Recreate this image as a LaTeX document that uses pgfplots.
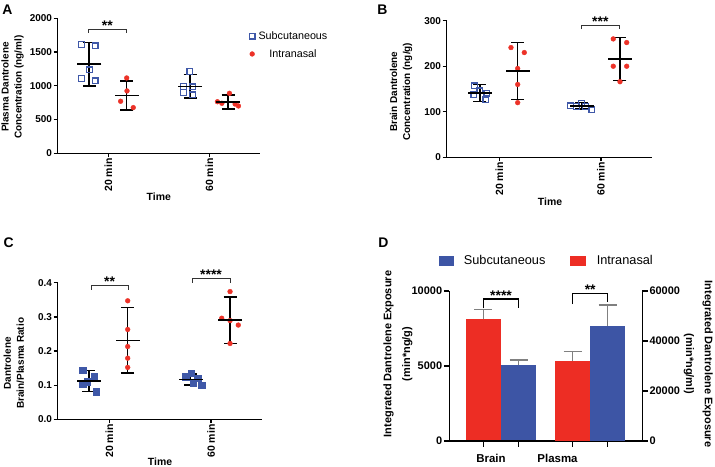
\documentclass[border=0pt]{standalone}
\usepackage{fontspec}
\setmainfont{Liberation Sans}
\usepackage{pgfplots}
\pgfplotsset{compat=1.18}

\definecolor{sqblue}{RGB}{63,88,168}
\definecolor{inred}{RGB}{236,50,40}
\definecolor{barblue}{RGB}{61,85,165}
\definecolor{barred}{RGB}{237,45,36}

\pgfplotsset{
  dotplot/.style={
    scale only axis, clip=false, anchor=south west,
    axis lines*=left, axis line style={line width=1.3bp,-},
    tick align=outside, tick style={line width=1.3bp, black},
    major tick length=4bp,
    ymin=0,
    xtick={1,2}, xticklabels={20 min,60 min},
    xticklabel style={rotate=90, anchor=east, font=\bfseries\fontsize{10.5}{12}\selectfont, inner sep=1bp},
    yticklabel style={font=\bfseries\fontsize{10}{12}\selectfont, inner sep=1.5bp},
    /pgf/number format/assume math mode=true,
    /pgf/number format/1000 sep={},
    xlabel={Time},
    every axis x label/.style={anchor=center, font=\bfseries\fontsize{10.5}{12}\selectfont},
    every axis y label/.style={rotate=90, anchor=center, align=center, font=\bfseries\fontsize{10}{13}\selectfont},
  },
  subq/.style={only marks, mark=square, mark size=2.9bp, mark options={draw=sqblue, fill=white, line width=1.2bp}},
  subqf/.style={only marks, mark=square*, mark size=3.2bp, mark options={draw=sqblue, fill=sqblue}},
  intra/.style={only marks, mark=*, mark size=2.4bp, mark options={draw=inred, fill=inred}},
  sdbar/.style={black, only marks, mark=-, mark size=12bp, mark options={line width=1.6bp},
    /pgfplots/error bars/y dir=both, /pgfplots/error bars/y explicit,
    /pgfplots/error bars/error mark=|,
    /pgfplots/error bars/error bar style={line width=1.6bp, black},
    /pgfplots/error bars/error mark options={mark size=6.5bp, line width=1.6bp, black}},
  barerr/.style={
    /pgfplots/error bars/y dir=plus, /pgfplots/error bars/y explicit,
    /pgfplots/error bars/error mark=|,
    /pgfplots/error bars/error bar style={line width=1.5bp, gray},
    /pgfplots/error bars/error mark options={mark size=9bp, line width=1.5bp, gray}},
}
\tikzset{
  brk/.style={line width=0.8bp, black!80},
  stars/.style={anchor=base, inner sep=0pt, yshift=-1.5bp, font=\bfseries\fontsize{14}{14}\selectfont},
}

\begin{document}
\begin{tikzpicture}
\path[use as bounding box] (0,0) rectangle (715bp,467bp);

% panel letters
\node[font=\bfseries\fontsize{14}{14}\selectfont] at (7.5bp,457bp) {A};
\node[font=\bfseries\fontsize{14}{14}\selectfont] at (382.5bp,457bp) {B};
\node[font=\bfseries\fontsize{14}{14}\selectfont] at (8.7bp,224.7bp) {C};
\node[font=\bfseries\fontsize{14}{14}\selectfont] at (383.3bp,224.7bp) {D};

% ---------------- A: plasma ----------------
\begin{axis}[dotplot, at={(57.7bp,313.7bp)}, width=202.3bp, height=135bp,
  xmin=0.5, xmax=2.5, ymax=2000, ytick={0,500,1000,1500,2000},
  ylabel={Plasma Dantrolene\\Concentration (ng/ml)},
  y label style={at={(axis description cs:-0.223,0.49)}},
  x label style={at={(axis description cs:0.5,-0.324)}},
  legend style={draw=none, fill=none, inner sep=0pt, font=\fontsize{10.8}{12}\selectfont,
    at={(axis description cs:0.946,0.802)}, anchor=west, row sep=4.6bp,
    /tikz/every odd column/.append style={column sep=1.5bp}},
]
\addplot[subq] coordinates {(0.737,1615) (0.869,1590) (0.812,1235) (0.737,1111) (0.869,1072)};
\addlegendentry{Subcutaneous}
\addplot[intra] coordinates {(1.182,1116) (1.185,924) (1.122,771) (1.247,677)};
\addlegendentry{Intranasal}
\addplot[subq, forget plot] coordinates {(1.807,1210) (1.745,990) (1.83,985) (1.745,905) (1.83,865)};
\addplot[intra, forget plot] coordinates {(2.079,764) (2.123,741) (2.198,889) (2.254,730) (2.287,701)};
\addplot[sdbar, forget plot] coordinates {
  (0.812,1321) +- (0,323)
  (1.182,855) +- (0,212)
  (1.81,990) +- (0,175)
  (2.186,758) +- (0,106)
};
\draw[brk] (axis cs:0.802,1788) -- (axis cs:0.802,1838) -- (axis cs:1.175,1838) -- (axis cs:1.175,1788);
\node[stars] at (axis cs:0.99,1838) {**};
\end{axis}

% ---------------- B: brain ----------------
\begin{axis}[dotplot, at={(446.7bp,309.7bp)}, width=205bp, height=136.6bp,
  xmin=0.483, xmax=2.499, ymax=300, ytick={0,100,200,300},
  ylabel={Brain Dantrolene\\Concentration (ng/g)},
  y label style={at={(axis description cs:-0.223,0.48)}},
  x label style={at={(axis description cs:0.504,-0.325)}},
]
\addplot[subq] coordinates {(0.756,157) (0.879,141) (0.751,137) (0.869,126) (0.81,146)};
\addplot[intra] coordinates {(1.115,241) (1.246,230) (1.181,195) (1.181,160) (1.181,120)};
\addplot[subq] coordinates {(1.70,113) (1.81,119) (1.76,111) (1.85,112) (1.91,104)};
\addplot[intra] coordinates {(2.121,260) (2.253,252) (2.121,200) (2.253,200) (2.187,166)};
\addplot[sdbar] coordinates {
  (0.81,141) +- (0,18.5)
  (1.181,189.5) +- (0,62.5)
  (1.81,113) +- (0,7)
  (2.187,216) +- (0,47.5)
};
\draw[brk] (axis cs:1.81,281.7) -- (axis cs:1.81,290.5) -- (axis cs:2.177,290.5) -- (axis cs:2.177,281.7);
\node[stars] at (axis cs:1.994,290.5) {***};
\end{axis}

% ---------------- C: ratio ----------------
\begin{axis}[dotplot, at={(57.7bp,47.7bp)}, width=204.6bp, height=136.6bp,
  xmin=0.493, xmax=2.504, ymax=0.4, ytick={0,0.1,0.2,0.3,0.4},
  yticklabel style={/pgf/number format/fixed, /pgf/number format/precision=1, /pgf/number format/fixed zerofill},
  ylabel={Dantrolene\\Brain/Plasma Ratio},
  y label style={at={(axis description cs:-0.214,0.41)}},
  x label style={at={(axis description cs:0.5,-0.31)}},
]
\addplot[subqf] coordinates {(0.738,0.144) (0.853,0.125) (0.784,0.110) (0.738,0.103) (0.869,0.081)};
\addplot[intra] coordinates {(1.181,0.347) (1.181,0.263) (1.181,0.213) (1.181,0.179) (1.181,0.152)};
\addplot[subqf] coordinates {(1.803,0.135) (1.751,0.125) (1.87,0.12) (1.826,0.105) (1.908,0.10)};
\addplot[intra] coordinates {(2.187,0.374) (2.105,0.296) (2.187,0.289) (2.268,0.276) (2.187,0.222)};
\addplot[sdbar] coordinates {
  (0.80,0.112) +- (0,0.031)
  (1.181,0.231) +- (0,0.096)
  (1.80,0.117) +- (0,0.016)
  (2.187,0.29) +- (0,0.068)
};
\draw[brk] (axis cs:0.82,0.379) -- (axis cs:0.82,0.393) -- (axis cs:1.187,0.393) -- (axis cs:1.187,0.379);
\node[stars] at (axis cs:1.003,0.393) {**};
\draw[brk] (axis cs:1.816,0.40) -- (axis cs:1.816,0.413) -- (axis cs:2.187,0.413) -- (axis cs:2.187,0.40);
\node[stars] at (axis cs:2.0,0.413) {****};
\end{axis}

% ---------------- D: exposure, left axis (brain) ----------------
\begin{axis}[scale only axis, clip=false, anchor=south west,
  at={(449.3bp,26bp)}, width=193bp, height=150bp,
  xmin=0, xmax=5.437, ymin=0, ymax=10000,
  axis lines*=left, axis line style={line width=1.3bp,-},
  axis on top,
  tick align=outside,
  tick style={line width=1.3bp, black}, major tick length=5.5bp,
  xtick={0.958,1.955,3.476,4.462}, xticklabels={,,,},
  ytick={0,5000,10000}, scaled y ticks=false,
  yticklabel style={font=\bfseries\fontsize{11}{13}\selectfont, inner sep=1.5bp},
  /pgf/number format/assume math mode=true,
  /pgf/number format/1000 sep={},
  ylabel={Integrated Dantrolene Exposure\\(min*ng/g)},
  every axis y label/.style={at={(axis description cs:-0.266,0.58)}, rotate=90, anchor=center, align=center, font=\bfseries\fontsize{11}{19}\selectfont},
  legend columns=2,
  legend style={draw=none, fill=none, inner sep=0pt, font=\fontsize{12.8}{14}\selectfont,
    at={(axis description cs:-0.057,1.202)}, anchor=west,
    /tikz/every odd column/.append style={column sep=9bp},
    /tikz/every even column/.append style={column sep=23bp}},
]
\addlegendimage{legend image code/.code={\fill[barblue] (0bp,-4.2bp) rectangle (14bp,4.2bp);}}
\addlegendentry{Subcutaneous}
\addlegendimage{legend image code/.code={\fill[barred] (0bp,-4.2bp) rectangle (15bp,4.2bp);}}
\addlegendentry{Intranasal}
\addplot[ybar, bar width=1, bar shift=0pt, fill=barred, draw=none, forget plot, barerr]
  coordinates {(0.958,8111) +- (0,667)};
\addplot[ybar, bar width=1, bar shift=0pt, fill=barblue, draw=none, forget plot, barerr]
  coordinates {(1.955,5067) +- (0,333)};
% category ticks under the four bars
\draw[line width=1.3bp] (axis cs:0.958,0) -- ++(0,-5.5bp);
\draw[line width=1.3bp] (axis cs:1.955,0) -- ++(0,-5.5bp);
\draw[line width=1.3bp] (axis cs:3.476,0) -- ++(0,-5.5bp);
\draw[line width=1.3bp] (axis cs:4.462,0) -- ++(0,-5.5bp);
\draw[line width=1.5bp] (axis cs:0.958,8844) -- (axis cs:0.958,9467) -- (axis cs:1.955,9467) -- (axis cs:1.955,8844);
\node[stars] at (axis cs:1.457,9467) {****};
\draw[line width=1.5bp] (axis cs:3.476,9133) -- (axis cs:3.476,9844) -- (axis cs:4.462,9844) -- (axis cs:4.462,9289);
\node[stars] at (axis cs:3.969,9844) {**};
\node[anchor=base, inner sep=0pt, yshift=-21bp, font=\bfseries\fontsize{11.5}{13}\selectfont] at (axis cs:1.175,0) {Brain};
\node[anchor=base, inner sep=0pt, yshift=-21bp, font=\bfseries\fontsize{11.5}{13}\selectfont] at (axis cs:3.048,0) {Plasma};
\end{axis}

% ---------------- D: right axis (plasma) ----------------
\begin{axis}[scale only axis, clip=false, anchor=south west,
  at={(449.3bp,26bp)}, width=193bp, height=150bp,
  xmin=0, xmax=5.437, ymin=0, ymax=60000,
  axis x line=none, axis y line=right, axis line style={line width=1.3bp,-},
  tick align=outside, tick style={line width=1.3bp, black}, major tick length=5.5bp,
  ytick={0,20000,40000,60000}, scaled y ticks=false,
  yticklabel style={font=\bfseries\fontsize{11}{13}\selectfont, inner sep=1.5bp},
  /pgf/number format/assume math mode=true,
  /pgf/number format/1000 sep={},
  ylabel={Integrated Dantrolene Exposure\\(min*ng/ml)},
  every axis y label/.style={at={(axis description cs:1.29,0.513)}, rotate=-90, anchor=center, align=center, font=\bfseries\fontsize{11}{19}\selectfont},
]
\addplot[ybar, bar width=1, bar shift=0pt, fill=barred, draw=none, barerr]
  coordinates {(3.476,31867) +- (0,3866)};
\addplot[ybar, bar width=1, bar shift=0pt, fill=barblue, draw=none, barerr]
  coordinates {(4.462,46000) +- (0,8400)};
\end{axis}
\end{tikzpicture}
\end{document}
